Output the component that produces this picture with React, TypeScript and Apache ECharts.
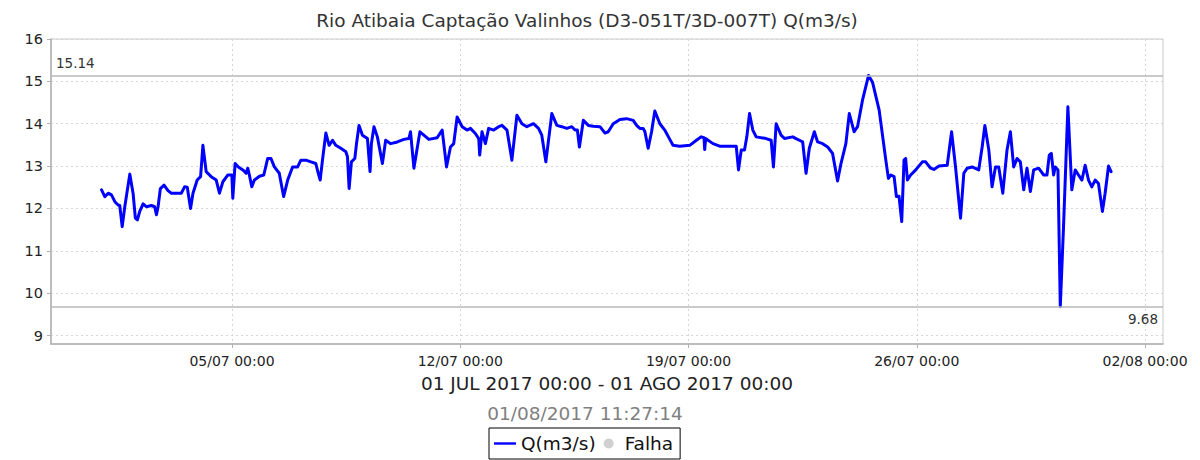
import React, { useEffect, useRef } from 'react';
import * as echarts from 'echarts';

const FONT = 'DejaVu Sans';
const chartTitle = 'Rio Atibaia Captação Valinhos (D3-051T/3D-007T) Q(m3/s)';
const periodText = '01 JUL 2017 00:00 - 01 AGO 2017 00:00';
const stampText = '01/08/2017 11:27:14';
const seriesName = 'Q(m3/s)';
const failName = 'Falha';
const startUTC = Date.UTC(2017, 6, 1, 0, 0, 0);

// hours since 01/07/2017 00:00
const hours = [
  0, 2.4, 4.9, 7.3, 9.8, 12.2, 13.4, 15.2, 17.1, 20.8, 23.2, 24.9, 26.4, 28.1, 30.6, 33.0, 36.7, 39.1, 40.4, 41.6,
  43.3, 46.0, 48.9, 51.4, 58.7, 61.1, 63.1, 65.5, 67.3, 70.4, 72.9, 74.6, 77.0, 80.7, 84.4, 86.8, 89.3, 93.0, 95.9, 96.6,
  98.3, 100.7, 104.0, 106.4, 107.6, 108.8, 110.6, 112.5, 116.2, 119.4, 122.3, 124.7, 127.2, 130.8, 134.0, 137.0, 140.6, 144.3, 146.7, 150.4,
  154.1, 157.7, 159.5, 160.9, 162.6, 165.1, 167.5, 170.0, 172.4, 176.1, 179.8, 181.0, 182.2, 183.9, 186.4, 187.8, 189.5, 192.0, 195.7, 197.6,
  198.6, 200.5, 203.0, 206.7, 209.1, 212.8, 217.7, 222.5, 226.2, 227.4, 229.9, 234.3, 237.2, 240.9, 247.0, 250.7, 253.9, 256.8, 259.2, 261.7,
  265.4, 269.0, 271.5, 275.1, 277.6, 278.3, 280.0, 282.5, 284.9, 288.6, 292.3, 294.7, 298.4, 302.0, 305.7, 309.4, 313.0, 317.9, 321.6, 324.0,
  327.0, 331.4, 335.1, 338.7, 342.4, 346.1, 348.5, 350.2, 351.7, 354.6, 358.3, 361.9, 366.8, 370.5, 372.9, 376.6, 381.5, 386.4, 391.3, 393.8,
  396.2, 398.6, 399.9, 402.3, 404.8, 407.2, 410.9, 414.5, 418.2, 420.6, 425.5, 432.9, 437.8, 441.4, 443.4, 443.9, 444.6, 450.0, 454.9, 459.8,
  467.1, 468.8, 470.8, 473.2, 474.9, 476.9, 479.3, 481.8, 489.1, 492.8, 494.5, 496.5, 500.1, 502.6, 508.7, 511.1, 513.6, 516.0, 518.5, 520.9,
  524.6, 527.0, 530.7, 534.4, 538.0, 541.7, 544.2, 547.8, 550.3, 553.9, 556.4, 560.0, 564.5, 567.4, 572.3, 577.2, 579.1, 580.9, 583.3, 585.0,
  586.9, 588.9, 590.6, 591.8, 593.1, 595.5, 599.2, 604.1, 606.5, 610.2, 612.6, 616.3, 622.4, 625.6, 628.5, 632.2, 634.6, 637.1, 640.7, 645.6,
  648.1, 650.1, 653.0, 655.4, 657.9, 660.3, 663.3, 666.4, 668.9, 671.3, 673.8, 676.2, 678.7, 681.1, 683.6, 686.0, 689.7, 693.3, 695.8, 697.5,
  699.0, 700.7, 701.9, 703.9, 705.6, 708.0, 711.2, 714.1, 716.6, 719.0, 721.5, 723.9, 726.4, 728.8, 731.3, 733.7, 736.6, 738.6, 741.1, 743.0,
];

const flow = [
  12.44, 12.28, 12.36, 12.32, 12.16, 12.08, 12.07, 11.57, 12.04, 12.81, 12.36, 11.77, 11.73, 11.93, 12.11, 12.04, 12.07, 12.04, 11.85, 12.04,
  12.47, 12.55, 12.42, 12.36, 12.36, 12.51, 12.50, 12.00, 12.36, 12.67, 12.75, 13.49, 12.87, 12.75, 12.67, 12.36, 12.63, 12.79, 12.79, 12.24,
  13.06, 12.98, 12.91, 12.83, 12.95, 12.79, 12.51, 12.67, 12.76, 12.79, 13.18, 13.18, 12.98, 12.83, 12.28, 12.67, 12.98, 12.98, 13.14, 13.14,
  13.10, 13.06, 12.83, 12.67, 13.14, 13.78, 13.49, 13.61, 13.49, 13.42, 13.34, 13.22, 12.47, 13.10, 13.18, 13.57, 13.96, 13.73, 13.65, 12.87,
  13.53, 13.93, 13.69, 13.06, 13.61, 13.53, 13.57, 13.63, 13.65, 13.81, 12.95, 13.81, 13.73, 13.63, 13.67, 13.85, 12.98, 13.45, 13.53, 14.16,
  13.93, 13.85, 13.89, 13.77, 13.65, 13.26, 13.81, 13.53, 13.89, 13.85, 13.93, 13.96, 13.85, 13.14, 14.20, 14.00, 13.93, 14.00, 13.89, 13.73,
  13.10, 14.24, 13.96, 13.93, 13.89, 13.93, 13.85, 13.85, 13.45, 14.08, 13.96, 13.94, 13.93, 13.78, 13.81, 14.00, 14.10, 14.12, 14.08, 13.96,
  13.89, 13.89, 13.81, 13.42, 13.81, 14.30, 14.00, 13.85, 13.63, 13.49, 13.47, 13.49, 13.61, 13.69, 13.67, 13.39, 13.65, 13.53, 13.47, 13.47,
  13.47, 12.91, 13.38, 13.38, 13.69, 14.24, 13.85, 13.69, 13.65, 13.61, 12.98, 14.00, 13.73, 13.65, 13.69, 13.65, 13.61, 13.57, 12.83, 13.42,
  13.81, 13.57, 13.53, 13.45, 13.30, 12.65, 13.06, 13.53, 14.24, 13.81, 13.93, 14.55, 15.14, 14.98, 14.32, 13.14, 12.71, 12.79, 12.75, 12.28,
  12.29, 11.69, 13.14, 13.18, 12.67, 12.79, 12.91, 13.10, 13.10, 12.95, 12.92, 13.00, 13.02, 13.81, 12.98, 11.77, 12.83, 12.95, 12.98, 12.91,
  13.45, 13.96, 13.38, 12.51, 12.98, 12.98, 12.36, 13.38, 13.81, 12.98, 13.18, 13.10, 12.44, 12.95, 12.40, 12.91, 12.95, 12.79, 12.79, 13.26,
  13.30, 12.79, 12.98, 12.91, 9.68, 11.57, 14.40, 12.44, 12.91, 12.79, 12.67, 13.02, 12.67, 12.51, 12.67, 12.59, 11.93, 12.36, 13.00, 12.87,
];

// tick positions (hours since 01/07 00:00): 05/07, 12/07, 19/07, 26/07, 02/08
const xTickHours = [96, 264, 432, 600, 768];
const yTicks = [9, 10, 11, 12, 13, 14, 15, 16];
const xMin = -37.2;
const xMax = 781.2;
const yMin = 8.8;
const yMax = 16;

const pad = (n: number) => String(n).padStart(2, '0');
function fmtTick(h: number): string {
  const d = new Date(startUTC + Math.round(h * 3600000));
  return `${pad(d.getUTCDate())}/${pad(d.getUTCMonth() + 1)} ${pad(d.getUTCHours())}:${pad(d.getUTCMinutes())}`;
}

export default function App() {
  const ref = useRef<HTMLDivElement>(null);

  useEffect(() => {
    if (!ref.current) return;
    const chart = echarts.init(ref.current, undefined, { renderer: 'svg' });
    const maxV = Math.max(...flow);
    const minV = Math.min(...flow);
    const gridColor = '#d6d6d6';
    const axisColor = '#b0b0b0';

    chart.setOption({
      animation: false,
      textStyle: { fontFamily: FONT },
      grid: {
        left: 51,
        right: 37,
        top: 39,
        bottom: 116,
        show: true,
        borderColor: '#c8c8c8',
        borderWidth: 1,
        containLabel: false,
      },
      legend: {
        left: 489,
        top: 428,
        orient: 'horizontal',
        padding: [6, 7, 6, 5],
        borderColor: '#000',
        borderWidth: 1,
        itemWidth: 22,
        itemHeight: 10,
        itemGap: 8,
        selectedMode: false,
        textStyle: { fontFamily: FONT, fontSize: 18.5, color: '#111' },
        data: [
          {
            name: seriesName,
            icon: 'path://M0,0 M22,10 M0,3.8 L22,3.8 L22,6.2 L0,6.2 Z',
            itemStyle: { color: '#0000ff', borderWidth: 0 },
          },
          { name: failName, icon: 'circle', itemStyle: { color: '#c4c4c4', borderWidth: 0 } },
        ],
      },
      xAxis: {
        type: 'value',
        min: xMin,
        max: xMax,
        axisLine: { show: true, onZero: false, lineStyle: { color: axisColor, width: 1.5 } },
        axisTick: {
          show: true,
          length: 4,
          customValues: xTickHours,
          lineStyle: { color: axisColor },
        },
        axisLabel: {
          customValues: xTickHours,
          formatter: (v: number) => fmtTick(v),
          fontFamily: FONT,
          fontSize: 14,
          color: '#222',
          margin: 10,
        },
        splitLine: { show: true, lineStyle: { color: gridColor, type: [2, 3], width: 1 } },
      },
      yAxis: {
        type: 'value',
        min: yMin,
        max: yMax,
        splitNumber: 7,
        axisLine: { show: true, onZero: false, lineStyle: { color: axisColor, width: 1.5 } },
        axisTick: {
          show: true,
          length: 4,
          customValues: yTicks,
          lineStyle: { color: axisColor },
        },
        axisLabel: {
          customValues: yTicks,
          fontFamily: FONT,
          fontSize: 14.5,
          color: '#222',
          margin: 8,
        },
        splitLine: { show: true, lineStyle: { color: gridColor, type: [2, 3], width: 1 } },
      },
      series: [
        {
          name: seriesName,
          type: 'line',
          data: hours.map((h, i) => [h, flow[i]]),
          symbol: 'none',
          showSymbol: false,
          color: '#0000ff',
          lineStyle: { color: '#0000ff', width: 3, join: 'round', cap: 'round' },
          emphasis: { disabled: true },
          markLine: {
            silent: true,
            symbol: ['none', 'none'],
            lineStyle: { color: '#b8b8b8', type: 'solid', width: 1.5 },
            emphasis: { disabled: true },
            label: { fontFamily: FONT, fontSize: 13.5, color: '#333' },
            data: [
              { yAxis: maxV, label: { position: 'insideStartTop', formatter: maxV.toFixed(2), distance: 5 } },
              { yAxis: minV, label: { position: 'insideEndBottom', formatter: minV.toFixed(2), distance: 5 } },
            ],
          },
        },
        {
          name: failName,
          type: 'scatter',
          data: [],
          color: '#c4c4c4',
          itemStyle: { color: '#c4c4c4' },
        },
      ],
      graphic: [
        {
          type: 'text',
          x: 587,
          y: 20,
          style: {
            text: chartTitle,
            fontFamily: FONT,
            fontSize: 18.5,
            fill: '#333',
            align: 'center',
            verticalAlign: 'middle',
          },
        },
        {
          type: 'text',
          x: 607,
          y: 383,
          style: {
            text: periodText,
            fontFamily: FONT,
            fontSize: 18.5,
            fill: '#222',
            align: 'center',
            verticalAlign: 'middle',
          },
        },
        {
          type: 'text',
          x: 585,
          y: 413,
          style: {
            text: stampText,
            fontFamily: FONT,
            fontSize: 18.5,
            fill: '#808080',
            align: 'center',
            verticalAlign: 'middle',
          },
        },
      ],
    });

    return () => {
      chart.dispose();
    };
  }, []);

  return (
    <div
      ref={ref}
      style={{ position: 'absolute', left: 0, top: 0, width: 1200, height: 460 }}
    />
  );
}
